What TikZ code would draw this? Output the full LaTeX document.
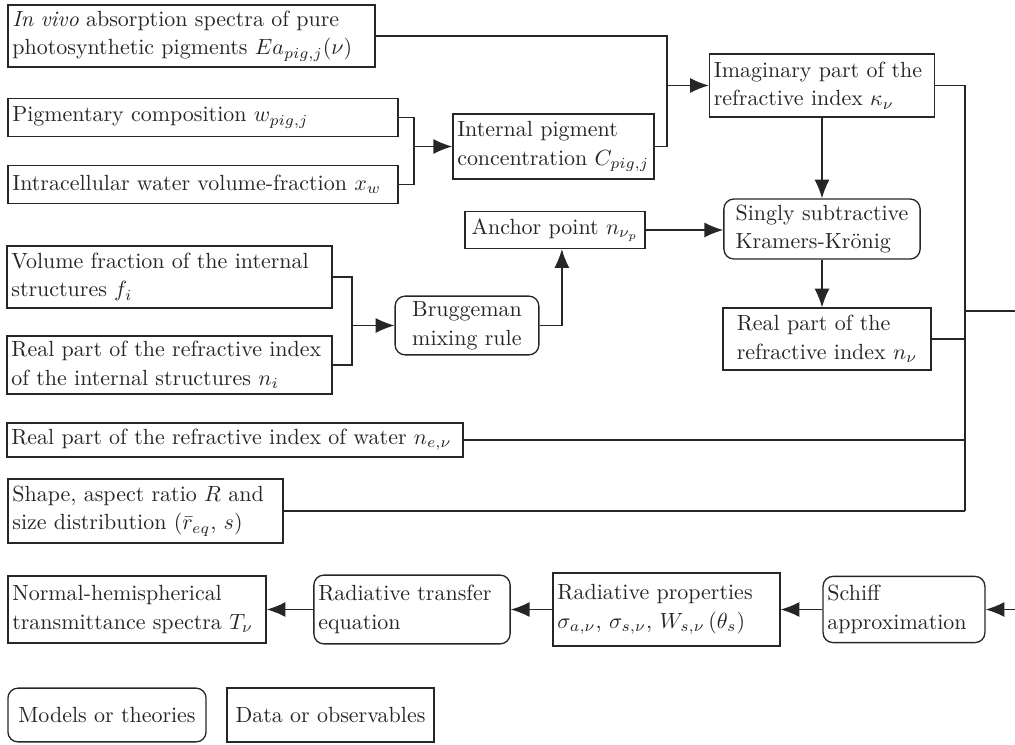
\documentclass[tikz,border=0pt]{standalone}
\usetikzlibrary{arrows.meta,positioning}

\begin{document}
\begin{tikzpicture}[
    x=0.16mm, y=-0.16mm,
    databox/.style={draw=black!85, text=black!85, line width=0.6pt, align=left, inner xsep=0.7mm, inner ysep=0.5mm, font=\fontsize{10}{13}\selectfont},
    modelbox/.style={databox, rounded corners=1.6mm},
    line/.style={draw=black!85, line width=0.6pt},
    arrow/.style={line, -{Latex[length=3mm, width=2.4mm]}}
  ]
    \useasboundingbox (0,0) rectangle (1015,744);
    % inputs on the left
    \node[databox, text width=57.3mm, minimum height=9.9mm] (vivo) at (191.5,36) {\textit{In vivo} absorption spectra of pure\\photosynthetic pigments $Ea_{pig,j}(\nu)$};
    \node[databox, text width=61mm, minimum height=6.1mm] (pigm) at (203,117.5) {Pigmentary composition $w_{pig,j}$};
    \node[databox, text width=61mm, minimum height=6.1mm] (xw) at (203,184.5) {Intracellular water volume-fraction $x_w$};
    \node[databox, text width=50.6mm, minimum height=9.9mm] (volfrac) at (169.5,277) {Volume fraction of the internal\\structures $f_i$};
    \node[databox, text width=50.6mm, minimum height=9.3mm] (nint) at (169.5,365) {Real part of the refractive index\\of the internal structures $n_i$};
    \node[databox, text width=71.6mm, minimum height=5.4mm] (nwater) at (235,440) {Real part of the refractive index of water $n_{e,\nu}$};
    \node[databox, text width=42.6mm, minimum height=10.2mm] (shape) at (145.5,511) {Shape, aspect ratio $R$ and\\size distribution $(\bar{r}_{eq},\, s)$};
    % middle column
    \node[databox, text width=30.8mm, minimum height=10.4mm] (conc) at (553.5,146.5) {Internal pigment\\concentration $C_{pig,j}$};
    \node[databox, minimum width=28.8mm, minimum height=5.9mm] (anchor) at (555,230) {Anchor point $n_{\nu_p}$};
    \node[modelbox, minimum width=23mm, minimum height=9.4mm] (brugg) at (467,325.5) {Bruggeman\\mixing rule};
    % refractive index column
    \node[databox, text width=34.6mm, minimum height=10.1mm] (kappa) at (822,85.5) {Imaginary part of the\\refractive index $\kappa_\nu$};
    \node[modelbox, minimum width=31.4mm, minimum height=9.6mm] (kk) at (822,229) {Singly subtractive\\Kramers-Kr\"onig};
    \node[databox, minimum width=33.3mm, minimum height=9.9mm] (nreal) at (827,339) {Real part of the\\refractive index $n_\nu$};
    % bottom row
    \node[databox, text width=39.9mm, minimum height=10.7mm] (trans) at (137,609.5) {Normal-hemispherical\\transmittance spectra $T_\nu$};
    \node[modelbox, text width=30mm, minimum height=11mm] (rte) at (412,609.5) {Radiative transfer\\equation};
    \node[databox, text width=34.9mm, minimum height=11.7mm] (props) at (666.5,609.5) {Radiative properties\\$\sigma_{a,\nu}$, $\sigma_{s,\nu}$, $W_{s,\nu}\,(\theta_s)$};
    \node[modelbox, text width=24.5mm, minimum height=10.6mm] (schiff) at (904,609.5) {Schiff\\approximation};
    % legend
    \node[modelbox, minimum width=31.7mm, minimum height=8.6mm] (models) at (107,715) {Models or theories};
    \node[databox, minimum width=33.1mm, minimum height=8.6mm] (datalg) at (330.5,715) {Data or observables};

    \coordinate (jpig) at (414,146.5);
    \coordinate (jkap) at (667,85.5);
    \coordinate (jbru) at (352,325.5);
    \coordinate (bus) at (965,311);
    \coordinate (busout) at (1015,311);
    \coordinate (schin) at (1015,609.5);

    \draw[line] (pigm.east) -| (jpig);
    \draw[line] (xw.east) -| (jpig);
    \draw[arrow] (jpig) -- (conc.west);
    \draw[line] (vivo.east) -| (jkap);
    \draw[line] (conc.east) -| (jkap);
    \draw[arrow] (jkap) -- (kappa.west);
    \draw[arrow] (kappa) -- (kk);
    \draw[arrow] (kk.south) -- (kk.south |- nreal.north);
    \draw[arrow] (anchor.east) -- (anchor.east -| kk.west);
    \draw[line] (volfrac.east) -| (jbru);
    \draw[line] (nint.east) -| (jbru);
    \draw[arrow] (jbru) -- (brugg.west);
    \draw[arrow] (brugg.east) -| ([xshift=1.1mm]anchor.south);
    % collecting line on the right
    \draw[line] (kappa.east) -| (bus |- shape.east);
    \draw[line] (nreal.east) -- (bus |- nreal.east);
    \draw[line] (nwater.east) -- (bus |- nwater.east);
    \draw[line] (shape.east) -- (bus |- shape.east);
    \draw[line] (bus) -- (busout);
    \draw[arrow] (schin) -- (schiff.east);
    \draw[arrow] (schiff) -- (props);
    \draw[arrow] (props) -- (rte);
    \draw[arrow] (rte) -- (trans);
  \end{tikzpicture}
\end{document}
